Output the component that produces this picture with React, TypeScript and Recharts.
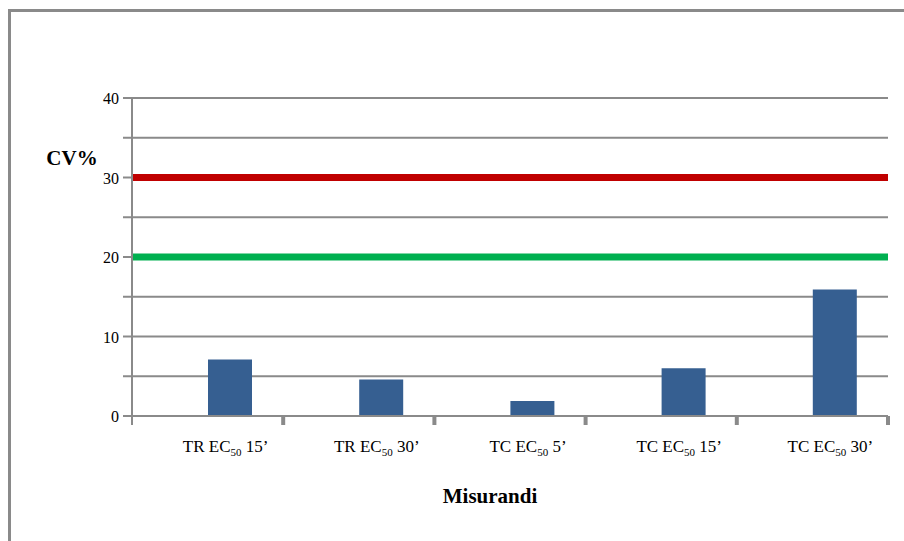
import React from 'react';
import { BarChart, Bar, XAxis, YAxis, CartesianGrid, ReferenceLine, Label } from 'recharts';

const categories = ["TR EC50 15’", "TR EC50 30’", "TC EC50 5’", "TC EC50 15’", "TC EC50 30’"];
const tickPrefix = ["TR EC", "TR EC", "TC EC", "TC EC", "TC EC"];
const tickSub = ["50", "50", "50", "50", "50"];
const tickSuffix = [" 15’", " 30’", " 5’", " 15’", " 30’"];
const cvValues = [7.1, 4.6, 1.9, 6.0, 15.9];
const yTicks = [0, 5, 10, 15, 20, 25, 30, 35, 40];
const limitRed = 30;
const limitGreen = 20;

const data = categories.map((c, i) => ({ name: c, idx: i, blank: null, cv: cvValues[i] }));

const W = 904;
const H = 541;
const M = { top: 98, right: 16, left: 72, bottom: 85 };
const Y_W = 60;
const X_H = 40;
const plotW = W - M.left - Y_W - M.right;
const band = plotW / categories.length;
const FONT = "'Liberation Serif', serif";
const txt = { fontFamily: FONT };

const XTick = (props: any) => {
  const { x, y, payload, index } = props;
  const i = payload.index ?? index;
  return (
    <g>
      <line x1={x + band / 2} x2={x + band / 2} y1={y - 8} y2={y + 1} stroke="#8a8a8a" strokeWidth={4} />
      {i === 0 && (
        <line x1={x - band / 2} x2={x - band / 2} y1={y - 8} y2={y + 1} stroke="#8a8a8a" strokeWidth={2} />
      )}
      <text x={x + 18} y={y + 28} textAnchor="middle" style={txt} fontSize={17} fill="#000">
        {tickPrefix[i]}
        <tspan fontSize={11} dy={4}>{tickSub[i]}</tspan>
        <tspan dy={-4}>{tickSuffix[i]}</tspan>
      </text>
    </g>
  );
};

const YTick = (props: any) => {
  const { x, y, payload } = props;
  if (payload.value % 10 !== 0) return null;
  return (
    <text x={x - 2} y={y + 6} textAnchor="end" style={txt} fontSize={16} fill="#000">
      {payload.value}
    </text>
  );
};

export default function App() {
  return (
    <div style={{ position: 'absolute', left: 0, top: 0, width: W, height: H, background: '#fff', fontFamily: FONT }}>
      <div style={{ position: 'absolute', left: 8, top: 9, width: W - 8, height: H - 9, borderTop: '3px solid #8a8a8a', borderLeft: '3px solid #8a8a8a', boxSizing: 'border-box' }} />
      <div style={{ position: 'absolute', left: 0, top: 0 }}>
        <BarChart width={W} height={H} data={data} margin={M} barSize={44} barGap={0} style={txt}>
          <CartesianGrid vertical={false} stroke="#8a8a8a" strokeWidth={2} />
          <XAxis
            dataKey="name"
            height={X_H}
            axisLine={{ stroke: '#8a8a8a', strokeWidth: 2 }}
            tickLine={false}
            tick={<XTick />}
            interval={0}
          >
            <Label
              content={() => (
                <text x={490} y={503} textAnchor="middle" style={txt} fontSize={21} fontWeight="bold" fill="#000">
                  Misurandi
                </text>
              )}
            />
          </XAxis>
          <YAxis
            width={Y_W}
            domain={[0, 40]}
            ticks={yTicks}
            interval={0}
            axisLine={{ stroke: '#8a8a8a', strokeWidth: 2 }}
            tickLine={{ stroke: '#8a8a8a', strokeWidth: 2 }}
            tickSize={9}
            tick={<YTick />}
          >
            <Label
              content={() => (
                <text x={72} y={165} textAnchor="middle" style={txt} fontSize={21} fontWeight="bold" fill="#000">
                  CV%
                </text>
              )}
            />
          </YAxis>
          <ReferenceLine y={limitRed} stroke="#c00000" strokeWidth={7} ifOverflow="extendDomain" />
          <ReferenceLine y={limitGreen} stroke="#00b050" strokeWidth={7} ifOverflow="extendDomain" />
          <Bar dataKey="blank" fill="transparent" isAnimationActive={false} />
          <Bar dataKey="cv" fill="#365f91" isAnimationActive={false} />
        </BarChart>
      </div>
    </div>
  );
}
